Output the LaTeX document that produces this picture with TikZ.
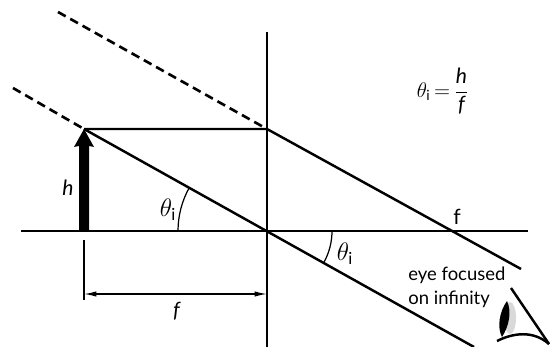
\documentclass[tikz,border=0pt]{standalone}
\usepackage{fontspec}
\setmainfont{Lato}
\usetikzlibrary{arrows.meta,calc}
\tikzset{
  thinline/.style={line width=0.7pt},
  ray/.style={line width=1.4pt},
  virtual/.style={line width=1.5pt, dash pattern=on 5pt off 3pt},
  lbl/.style={inner sep=0pt, font=\fontsize{12}{14}\selectfont},
  anglbl/.style={inner sep=0pt, font=\fontsize{13.5}{15}\selectfont},
  dimarrow/.style={thinline, {Latex[length=7pt,width=3pt]}-{Latex[length=7pt,width=3pt]}},
}
\newcommand{\thi}{\theta_{\mathrm{i}}}
\begin{document}
\begin{tikzpicture}[x=0.02cm,y=-0.02cm]
\useasboundingbox (0,0) rectangle (550,347);
% key points (pixel-like grid, y pointing down)
\coordinate (O) at (267,231);
\coordinate (lensT) at (267,32);
\coordinate (lensB) at (267,347);
\coordinate (axL) at (21,231);
\coordinate (axR) at (528,231);
\coordinate (base) at (84,231);
\coordinate (tip) at (84,129);
\coordinate (P) at (267,129);
\coordinate (parEnd) at (521,269);
\coordinate (chiefEnd) at (474,347);
\coordinate (dashA) at (58,12);
\coordinate (dashB) at (13,88);

% lens plane and optical axis
\draw[thinline] (lensT) -- (lensB);
\draw[thinline] (axL) -- (axR);

% object arrow
\fill (79,231) -- (79,146) -- (74,147) -- (tip) -- (94,147) -- (89,146) -- (89,231) -- cycle;

% rays
\draw[ray] (tip) -- (P) -- (parEnd);
\draw[ray] (tip) -- (chiefEnd);
\draw[virtual] (dashA) -- (P);
\draw[virtual] (dashB) -- (tip);

% angles
\draw[thinline] ($(O)+(-89,0)$) arc[start angle=180, end angle=209.1, radius=89];
\draw[thinline] ($(O)+(65,0)$) arc[start angle=0, end angle=29.1, radius=65];
\node[anglbl] (thL) at (168,210) {$\thi$};
\node[anglbl] (thR) at (345,254) {$\thi$};

% dimension f
\coordinate (tickT) at (84,240);
\coordinate (tickB) at (84,300);
\draw[thinline] (tickT) -- (tickB);
\draw[dimarrow] (84,294) -- (267,294);
\node[lbl] (flab) at (177,311) {\textit{f}};

% labels
\node[lbl] (hlab) at (68,188) {\textit{h}};
\node[lbl] (Flab) at (457,217) {f};
\node[lbl] (eqn) at (443,91) {$\thi\,{=}\,\displaystyle\frac{\textit{h}}{\textit{f}}$};
\node[lbl, anchor=north west, align=left, font=\fontsize{10.5}{13.5}\selectfont] (eye) at (408,267) {eye focused\\on infinity};

% eye
\fill[gray!30] (510,318) ellipse[x radius=6, y radius=16];
\fill (507,301) .. controls (499,312) and (497,328) .. (502,337) .. controls (509,326) and (512,312) .. (507,301);
\draw[ray] (511,288) -- (549,344);
\draw[ray] (497,341) .. controls (513,333) and (533,330) .. (549,344);
\end{tikzpicture}
\end{document}
